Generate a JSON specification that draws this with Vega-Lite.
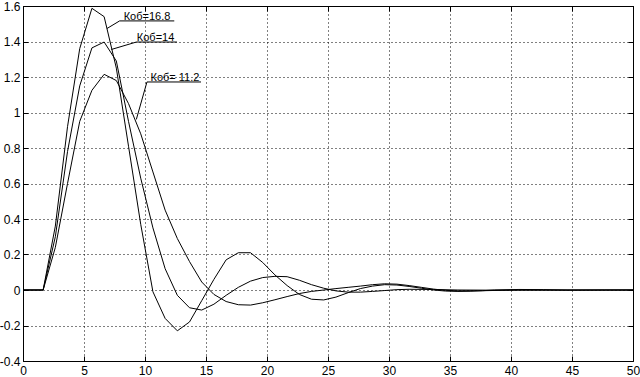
{
  "$schema": "https://vega.github.io/schema/vega-lite/v6.json",
  "autosize": {"type": "none"},
  "padding": {"left": 23, "top": 6, "right": 7, "bottom": 16},
  "width": 610,
  "height": 355,
  "background": "white",
  "config": {
    "view": {"stroke": "black", "strokeWidth": 1},
    "axis": {
      "domain": false,
      "labelFont": "Liberation Sans",
      "labelFontSize": 12,
      "labelColor": "black",
      "tickColor": "black",
      "tickSize": -5,
      "grid": true,
      "gridColor": "black",
      "gridOpacity": 1,
      "gridDash": [1, 3],
      "title": null
    }
  },
  "datasets": {
    "curves": [
      {"t": 0, "y": 0, "s": "16.8"}, {"t": 1.65, "y": 0, "s": "16.8"}, {"t": 2.65, "y": 0.36, "s": "16.8"}, {"t": 3.65, "y": 0.92, "s": "16.8"}, {"t": 4.65, "y": 1.36, "s": "16.8"}, {"t": 5.65, "y": 1.587, "s": "16.8"}, {"t": 6.65, "y": 1.54, "s": "16.8"}, {"t": 7.65, "y": 1.25, "s": "16.8"}, {"t": 8.65, "y": 0.81, "s": "16.8"}, {"t": 9.65, "y": 0.37, "s": "16.8"}, {"t": 10.65, "y": -0.01, "s": "16.8"}, {"t": 11.65, "y": -0.16, "s": "16.8"}, {"t": 12.65, "y": -0.23, "s": "16.8"}, {"t": 13.65, "y": -0.18, "s": "16.8"}, {"t": 14.65, "y": -0.06, "s": "16.8"}, {"t": 15.65, "y": 0.06, "s": "16.8"}, {"t": 16.65, "y": 0.17, "s": "16.8"}, {"t": 17.65, "y": 0.21, "s": "16.8"}, {"t": 18.65, "y": 0.21, "s": "16.8"}, {"t": 19.65, "y": 0.155, "s": "16.8"}, {"t": 20.65, "y": 0.085, "s": "16.8"}, {"t": 21.65, "y": 0.025, "s": "16.8"}, {"t": 22.65, "y": -0.025, "s": "16.8"}, {"t": 23.65, "y": -0.052, "s": "16.8"}, {"t": 24.65, "y": -0.056, "s": "16.8"}, {"t": 25.65, "y": -0.04, "s": "16.8"}, {"t": 26.65, "y": -0.015, "s": "16.8"}, {"t": 27.65, "y": 0.008, "s": "16.8"}, {"t": 28.65, "y": 0.022, "s": "16.8"}, {"t": 29.65, "y": 0.03, "s": "16.8"}, {"t": 30.65, "y": 0.028, "s": "16.8"}, {"t": 31.65, "y": 0.02, "s": "16.8"}, {"t": 32.65, "y": 0.01, "s": "16.8"}, {"t": 33.65, "y": 0.0, "s": "16.8"}, {"t": 34.65, "y": -0.006, "s": "16.8"}, {"t": 35.65, "y": -0.008, "s": "16.8"}, {"t": 36.65, "y": -0.007, "s": "16.8"}, {"t": 37.65, "y": -0.004, "s": "16.8"}, {"t": 38.65, "y": 0.0, "s": "16.8"}, {"t": 40.65, "y": 0.003, "s": "16.8"}, {"t": 42.65, "y": 0.002, "s": "16.8"}, {"t": 44.65, "y": -0.001, "s": "16.8"}, {"t": 47.65, "y": 0.0, "s": "16.8"}, {"t": 50, "y": 0.0, "s": "16.8"},
      {"t": 0, "y": 0, "s": "14"}, {"t": 1.65, "y": 0, "s": "14"}, {"t": 2.65, "y": 0.3, "s": "14"}, {"t": 3.65, "y": 0.78, "s": "14"}, {"t": 4.65, "y": 1.15, "s": "14"}, {"t": 5.65, "y": 1.364, "s": "14"}, {"t": 6.65, "y": 1.397, "s": "14"}, {"t": 7.65, "y": 1.29, "s": "14"}, {"t": 8.65, "y": 0.95, "s": "14"}, {"t": 9.65, "y": 0.63, "s": "14"}, {"t": 10.65, "y": 0.35, "s": "14"}, {"t": 11.65, "y": 0.12, "s": "14"}, {"t": 12.65, "y": -0.03, "s": "14"}, {"t": 13.65, "y": -0.1, "s": "14"}, {"t": 14.65, "y": -0.113, "s": "14"}, {"t": 15.65, "y": -0.08, "s": "14"}, {"t": 16.65, "y": -0.03, "s": "14"}, {"t": 17.65, "y": 0.015, "s": "14"}, {"t": 18.65, "y": 0.05, "s": "14"}, {"t": 19.65, "y": 0.07, "s": "14"}, {"t": 20.65, "y": 0.077, "s": "14"}, {"t": 21.65, "y": 0.075, "s": "14"}, {"t": 22.65, "y": 0.055, "s": "14"}, {"t": 23.65, "y": 0.03, "s": "14"}, {"t": 24.65, "y": 0.01, "s": "14"}, {"t": 25.65, "y": -0.005, "s": "14"}, {"t": 26.65, "y": -0.012, "s": "14"}, {"t": 27.65, "y": -0.012, "s": "14"}, {"t": 28.65, "y": -0.008, "s": "14"}, {"t": 29.65, "y": -0.003, "s": "14"}, {"t": 30.65, "y": 0.002, "s": "14"}, {"t": 31.65, "y": 0.004, "s": "14"}, {"t": 33.65, "y": 0.003, "s": "14"}, {"t": 35.65, "y": 0.0, "s": "14"}, {"t": 38.65, "y": -0.001, "s": "14"}, {"t": 50, "y": 0.0, "s": "14"},
      {"t": 0, "y": 0, "s": "11.2"}, {"t": 1.65, "y": 0, "s": "11.2"}, {"t": 2.65, "y": 0.24, "s": "11.2"}, {"t": 3.65, "y": 0.6, "s": "11.2"}, {"t": 4.65, "y": 0.95, "s": "11.2"}, {"t": 5.65, "y": 1.125, "s": "11.2"}, {"t": 6.65, "y": 1.215, "s": "11.2"}, {"t": 7.65, "y": 1.18, "s": "11.2"}, {"t": 8.65, "y": 1.05, "s": "11.2"}, {"t": 9.65, "y": 0.88, "s": "11.2"}, {"t": 10.65, "y": 0.665, "s": "11.2"}, {"t": 11.65, "y": 0.45, "s": "11.2"}, {"t": 12.65, "y": 0.29, "s": "11.2"}, {"t": 13.65, "y": 0.16, "s": "11.2"}, {"t": 14.65, "y": 0.045, "s": "11.2"}, {"t": 15.65, "y": -0.025, "s": "11.2"}, {"t": 16.65, "y": -0.065, "s": "11.2"}, {"t": 17.65, "y": -0.083, "s": "11.2"}, {"t": 18.65, "y": -0.085, "s": "11.2"}, {"t": 19.65, "y": -0.072, "s": "11.2"}, {"t": 20.65, "y": -0.055, "s": "11.2"}, {"t": 21.65, "y": -0.037, "s": "11.2"}, {"t": 22.65, "y": -0.02, "s": "11.2"}, {"t": 23.65, "y": -0.008, "s": "11.2"}, {"t": 24.65, "y": 0.0, "s": "11.2"}, {"t": 25.65, "y": 0.008, "s": "11.2"}, {"t": 26.65, "y": 0.015, "s": "11.2"}, {"t": 27.65, "y": 0.022, "s": "11.2"}, {"t": 28.65, "y": 0.03, "s": "11.2"}, {"t": 29.65, "y": 0.035, "s": "11.2"}, {"t": 30.65, "y": 0.033, "s": "11.2"}, {"t": 31.65, "y": 0.025, "s": "11.2"}, {"t": 32.65, "y": 0.015, "s": "11.2"}, {"t": 33.65, "y": 0.005, "s": "11.2"}, {"t": 34.65, "y": -0.002, "s": "11.2"}, {"t": 35.65, "y": -0.005, "s": "11.2"}, {"t": 37.65, "y": -0.004, "s": "11.2"}, {"t": 40.65, "y": 0.0, "s": "11.2"}, {"t": 50, "y": 0.0, "s": "11.2"}
    ],
    "leaders": [
      {"x1": 6.88, "y1": 1.473, "x2": 7.92, "y2": 1.516},
      {"x1": 7.92, "y1": 1.516, "x2": 12.4, "y2": 1.516},
      {"x1": 7.24, "y1": 1.355, "x2": 9.29, "y2": 1.397},
      {"x1": 9.29, "y1": 1.397, "x2": 12.62, "y2": 1.397},
      {"x1": 9.29, "y1": 0.961, "x2": 10.16, "y2": 1.172},
      {"x1": 10.16, "y1": 1.172, "x2": 14.59, "y2": 1.172}
    ],
    "labels": [
      {"label": "Коб=16.8", "x": 8.25, "y": 1.516},
      {"label": "Коб=14", "x": 9.33, "y": 1.397},
      {"label": "Коб= 11.2", "x": 10.45, "y": 1.172}
    ]
  },
  "layer": [
    {
      "data": {"name": "curves"},
      "mark": {"type": "line", "color": "black", "strokeWidth": 1, "clip": true},
      "encoding": {
        "x": {"field": "t", "type": "quantitative", "scale": {"domain": [0, 50], "nice": false, "zero": false},
              "axis": {"orient": "bottom", "values": [0, 5, 10, 15, 20, 25, 30, 35, 40, 45, 50], "labelPadding": 9, "labelFlush": false}},
        "y": {"field": "y", "type": "quantitative", "scale": {"domain": [-0.4, 1.6], "nice": false, "zero": false},
              "axis": {"orient": "left", "values": [-0.4, -0.2, 0, 0.2, 0.4, 0.6, 0.8, 1, 1.2, 1.4, 1.6], "labelPadding": 8, "labelFlush": false,
                       "labelExpr": "replace(format(datum.value, '.1~f'), '\u2212', '-')"}},
        "detail": {"field": "s"},
        "order": {"field": "t", "type": "quantitative"}
      }
    },
    {
      "data": {"name": "leaders"},
      "mark": {"type": "rule", "color": "black", "strokeWidth": 1},
      "encoding": {
        "x": {"field": "x1", "type": "quantitative", "axis": {"orient": "top", "values": [0, 5, 10, 15, 20, 25, 30, 35, 40, 45, 50], "labels": false, "grid": false}},
        "y": {"field": "y1", "type": "quantitative", "axis": {"orient": "right", "values": [-0.4, -0.2, 0, 0.2, 0.4, 0.6, 0.8, 1, 1.2, 1.4, 1.6], "labels": false, "grid": false}},
        "x2": {"field": "x2"},
        "y2": {"field": "y2"}
      }
    },
    {
      "data": {"name": "labels"},
      "mark": {"type": "text", "color": "black", "font": "Liberation Sans", "fontSize": 11, "align": "left", "baseline": "alphabetic", "dy": -1},
      "encoding": {
        "x": {"field": "x", "type": "quantitative", "axis": null},
        "y": {"field": "y", "type": "quantitative", "axis": null},
        "text": {"field": "label"}
      }
    }
  ],
  "resolve": {"axis": {"x": "independent", "y": "independent"}}
}
